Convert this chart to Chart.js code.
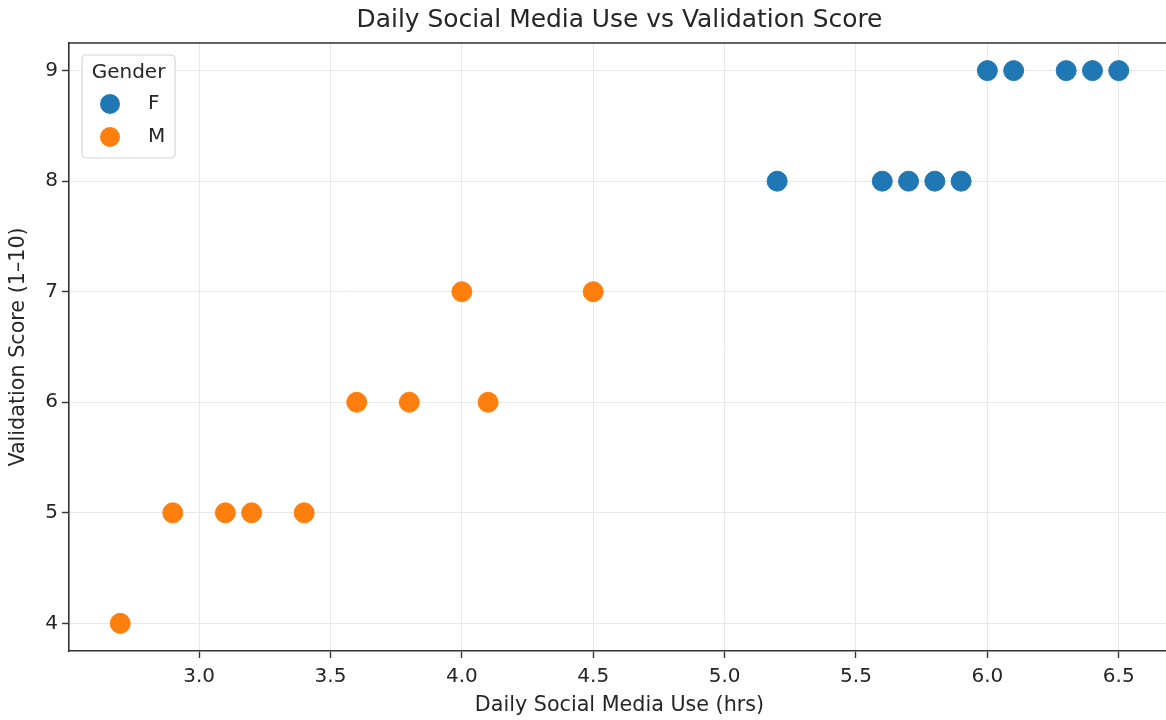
<!DOCTYPE html>
<html>
<head>
<meta charset="utf-8">
<script src="https://cdn.jsdelivr.net/npm/chart.js@4.4.1/dist/chart.umd.min.js"></script>
<style>
  body { margin: 0; background: #fff; }
  #wrap { width: 1166px; height: 720px; overflow: hidden; position: relative; }
  canvas { display: block; }
</style>
</head>
<body>
<div id="wrap">
  <canvas id="myChart" width="1200" height="720"></canvas>
</div>
<script>
// values
const genders = ["F", "M"];
const femaleHours = [5.2, 5.6, 5.7, 5.8, 5.9, 6.0, 6.1, 6.3, 6.4, 6.5];
const femaleScores = [8, 8, 8, 8, 8, 9, 9, 9, 9, 9];
const maleHours = [2.7, 2.9, 3.1, 3.2, 3.4, 3.6, 3.8, 4.0, 4.1, 4.5];
const maleScores = [4, 5, 5, 5, 5, 6, 6, 7, 6, 7];
const xTicks = [3.0, 3.5, 4.0, 4.5, 5.0, 5.5, 6.0, 6.5];
const yTicks = [4, 5, 6, 7, 8, 9];

const blue = "#1f77b4";
const orange = "#ff7f0e";
const textColor = "#262626";
const frameColor = "#333333";
const fontFamily = "'DejaVu Sans', sans-serif";

function toPoints(xs, ys) {
	return xs.map((x, i) => ({ x: x, y: ys[i] }));
}

// top and right spines of the axes box
const framePlugin = {
	id: "frame",
	afterDraw(chart) {
		const { ctx, chartArea } = chart;
		ctx.save();
		ctx.strokeStyle = frameColor;
		ctx.lineWidth = 1.6;
		ctx.beginPath();
		ctx.moveTo(chartArea.left, chartArea.top);
		ctx.lineTo(chartArea.right, chartArea.top);
		ctx.lineTo(chartArea.right, chartArea.bottom);
		ctx.stroke();
		ctx.restore();
	},
};

// legend drawn inside the plot, top-left, like matplotlib's
const innerLegend = {
	id: "innerLegend",
	afterDraw(chart) {
		const { ctx, chartArea } = chart;
		const bx = chartArea.left + 13;
		const by = chartArea.top + 12;
		const bw = 93;
		const bh = 103;
		ctx.save();
		ctx.beginPath();
		ctx.roundRect(bx, by, bw, bh, 4);
		ctx.fillStyle = "rgba(255,255,255,0.8)";
		ctx.fill();
		ctx.strokeStyle = "#d6d6d6";
		ctx.lineWidth = 1.2;
		ctx.stroke();

		ctx.fillStyle = textColor;
		ctx.font = "20px " + fontFamily;
		ctx.textAlign = "center";
		ctx.textBaseline = "middle";
		ctx.fillText("Gender", bx + bw / 2, by + 18);

		chart.data.datasets.forEach((ds, i) => {
			const cy = by + 49 + i * 33;
			ctx.beginPath();
			ctx.arc(bx + 28, cy, 10, 0, Math.PI * 2);
			ctx.fillStyle = ds.backgroundColor;
			ctx.fill();
			ctx.fillStyle = textColor;
			ctx.textAlign = "left";
			ctx.fillText(ds.label, bx + 66, cy);
		});
		ctx.restore();
	},
};

const ctx = document.getElementById("myChart");
const myChart = new Chart(ctx, {
	type: "scatter",
	data: {
		datasets: [
			{
				label: genders[0],
				data: toPoints(femaleHours, femaleScores),
				backgroundColor: blue,
				borderColor: blue,
				borderWidth: 1,
				pointRadius: 10,
				pointHoverRadius: 10,
			},
			{
				label: genders[1],
				data: toPoints(maleHours, maleScores),
				backgroundColor: orange,
				borderColor: orange,
				borderWidth: 1,
				pointRadius: 10,
				pointHoverRadius: 10,
			},
		],
	},
	plugins: [framePlugin, innerLegend],
	options: {
		responsive: false,
		animation: false,
		events: [],
		layout: {
			padding: { left: 0, right: 30, top: 0, bottom: 0 },
		},
		plugins: {
			legend: { display: false },
			tooltip: { enabled: false },
			title: {
				display: true,
				fullSize: false,
				text: "Daily Social Media Use vs Validation Score",
				color: textColor,
				font: { family: fontFamily, size: 24.9, weight: "normal", lineHeight: 1.2 },
				padding: { top: 6, bottom: 7.1 },
			},
		},
		scales: {
			x: {
				type: "linear",
				min: 2.505,
				max: 6.695,
				afterBuildTicks: (scale) => {
					scale.ticks = xTicks.map((v) => ({ value: v }));
				},
				afterFit: (scale) => {
					scale.height = 69;
				},
				grid: {
					color: "#e8e8e8",
					lineWidth: 1,
					tickColor: frameColor,
					tickLength: 7,
					tickWidth: 1.4,
				},
				border: { display: true, color: frameColor, width: 1.6 },
				ticks: {
					color: textColor,
					padding: 7,
					font: { family: fontFamily, size: 20 },
					callback: (v) => v.toFixed(1),
				},
				title: {
					display: true,
					text: "Daily Social Media Use (hrs)",
					color: textColor,
					font: { family: fontFamily, size: 20.7 },
					padding: { top: 0, bottom: 2 },
				},
			},
			y: {
				type: "linear",
				min: 3.75,
				max: 9.25,
				afterBuildTicks: (scale) => {
					scale.ticks = yTicks.map((v) => ({ value: v }));
				},
				afterFit: (scale) => {
					scale.width = 69;
				},
				grid: {
					color: "#e8e8e8",
					lineWidth: 1,
					tickColor: frameColor,
					tickLength: 7,
					tickWidth: 1.4,
				},
				border: { display: true, color: frameColor, width: 1.6 },
				ticks: {
					color: textColor,
					padding: 4,
					font: { family: fontFamily, size: 20 },
				},
				title: {
					display: true,
					text: "Validation Score (1–10)",
					color: textColor,
					font: { family: fontFamily, size: 20.7 },
					padding: { top: 6.5, bottom: 0 },
				},
			},
		},
	},
});
</script>
</body>
</html>
